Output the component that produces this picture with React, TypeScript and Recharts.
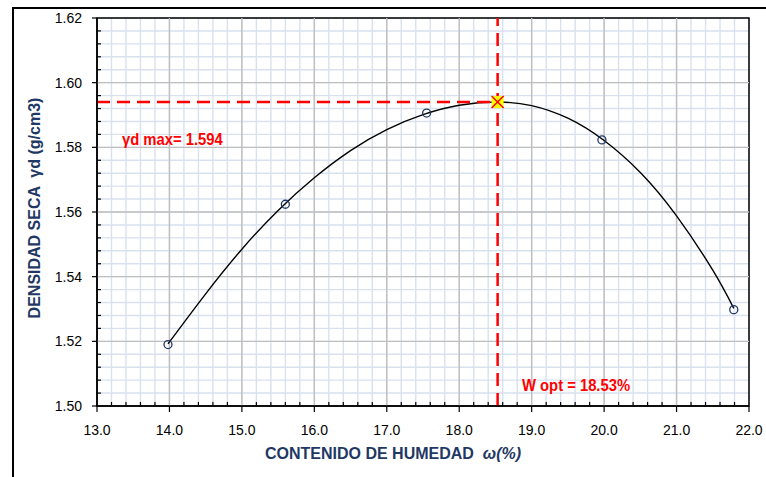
import React from 'react'
import {
  ComposedChart,
  Line,
  Scatter,
  XAxis,
  YAxis,
  CartesianGrid,
  ReferenceLine,
  ReferenceArea,
} from 'recharts'

// lab points (contenido de humedad %, densidad seca g/cm3)
const moisture = [13.98, 15.6, 17.55, 19.97, 21.79]
const density = [1.519, 1.5624, 1.5906, 1.5823, 1.5298]

// fitted curve
const curveX = [13.98, 14.5, 15.0, 15.5, 16.0, 16.5, 17.0, 17.5, 18.0, 18.53, 19.0, 19.5, 20.0, 20.5, 21.0, 21.5, 21.79]
const curveY = [1.5192, 1.5347, 1.5485, 1.5605, 1.5706, 1.579, 1.5855, 1.5901, 1.593, 1.594, 1.5929, 1.589, 1.5821, 1.5722, 1.5588, 1.542, 1.5302]

const wOpt = 18.53
const dMax = 1.594

const xMajor = [13, 14, 15, 16, 17, 18, 19, 20, 21, 22]
const yMajor = [1.5, 1.52, 1.54, 1.56, 1.58, 1.6, 1.62]

// minor ticks: 5 subdivisions between major ticks
const subdivide = (major: number[], dec: number) => {
  const out: number[] = []
  for (let i = 0; i < major.length - 1; i++) {
    const step = (major[i + 1] - major[i]) / 5
    for (let k = 0; k < 5; k++) out.push(Number((major[i] + k * step).toFixed(dec)))
  }
  out.push(major[major.length - 1])
  return out
}
const xMinor = subdivide(xMajor, 2)
const yMinor = subdivide(yMajor, 4)

const points = moisture.map((x, i) => ({ x, y: density[i] }))
const curve = curveX.map((x, i) => ({ x, y: curveY[i] }))
const optimum = [{ x: wOpt, y: dMax }]

const NAVY = '#1f3864'
const RED = '#ff0000'
const FONT = '"Liberation Sans", Arial, sans-serif'

const XTick = (props: any) => {
  const { x, y, index, payload } = props
  const major = index % 5 === 0
  if (!major) return <line x1={x} x2={x} y1={y} y2={y - 4} stroke="#000" strokeWidth={1.2} />
  return (
    <g>
      <line x1={x} x2={x} y1={y} y2={y + 6} stroke="#000" strokeWidth={1.2} />
      <text x={x} y={y + 29} textAnchor="middle" fontSize={14} fontFamily={FONT} fill="#000">
        {Number(payload.value).toFixed(1)}
      </text>
    </g>
  )
}

const YTick = (props: any) => {
  const { x, y, index, payload } = props
  const major = index % 5 === 0
  if (!major) return <line x1={x} x2={x + 4} y1={y} y2={y} stroke="#000" strokeWidth={1.2} />
  return (
    <g>
      <line x1={x} x2={x - 5} y1={y} y2={y} stroke="#000" strokeWidth={1.2} />
      <text x={x - 15} y={y + 5} textAnchor="end" fontSize={14} fontFamily={FONT} fill="#000">
        {Number(payload.value).toFixed(2)}
      </text>
    </g>
  )
}

const OpenCircle = (props: any) => (
  <circle cx={props.cx} cy={props.cy} r={4} fill="none" stroke={NAVY} strokeWidth={1.3} />
)

const OptMarker = (props: any) => {
  const { cx, cy } = props
  const s = 6
  return (
    <g>
      <rect x={cx - s} y={cy - s} width={2 * s} height={2 * s} fill="#ffff00" />
      <line x1={cx - s} y1={cy - s} x2={cx + s} y2={cy + s} stroke={RED} strokeWidth={1.5} />
      <line x1={cx - s} y1={cy + s} x2={cx + s} y2={cy - s} stroke={RED} strokeWidth={1.5} />
    </g>
  )
}

const annot: React.CSSProperties = {
  position: 'absolute',
  color: RED,
  fontWeight: 'bold',
  fontSize: 17,
  whiteSpace: 'nowrap',
  transform: 'scaleX(0.87)',
  transformOrigin: 'left center',
}

export default function App() {
  return (
    <div style={{ position: 'absolute', left: 0, top: 0, width: 766, height: 477, overflow: 'hidden', background: '#fff', fontFamily: FONT }}>
      <div style={{ position: 'absolute', left: 12, top: 7, width: 800, height: 500, borderTop: '2px solid #000', borderLeft: '2px solid #000' }} />
      <div style={{ position: 'absolute', left: 0, top: 0 }}>
        <ComposedChart width={766} height={477} margin={{ top: 18, right: 17, bottom: 41, left: 37 }}>
          <CartesianGrid stroke="#d9e1ef" strokeWidth={1.4} />
          <XAxis
            dataKey="x"
            type="number"
            domain={[13, 22]}
            ticks={xMinor}
            interval={0}
            tickSize={0}
            tickMargin={0}
            tickLine={false}
            tick={<XTick />}
            axisLine={{ stroke: '#000', strokeWidth: 1.5 }}
            height={30}
            allowDataOverflow
          />
          <YAxis
            dataKey="y"
            type="number"
            domain={[1.5, 1.62]}
            ticks={yMinor}
            interval={0}
            tickSize={0}
            tickMargin={0}
            tickLine={false}
            tick={<YTick />}
            axisLine={{ stroke: '#000', strokeWidth: 1.5 }}
            width={60}
            allowDataOverflow
          />
          {xMajor.slice(1, -1).map((v) => (
            <ReferenceLine key={'vx' + v} x={v} stroke="#bfbfbf" strokeWidth={1.4} />
          ))}
          {yMajor.slice(1, -1).map((v) => (
            <ReferenceLine key={'hy' + v} y={v} stroke="#bfbfbf" strokeWidth={1.4} />
          ))}
          <ReferenceArea x1={13} x2={22} y1={1.5} y2={1.62} fill="none" stroke="#000" strokeWidth={1.5} />
          <Line data={curve} dataKey="y" type="natural" stroke="#000" strokeWidth={1.4} dot={false} isAnimationActive={false} />
          <Scatter data={points} dataKey="y" shape={<OpenCircle />} isAnimationActive={false} />
          <ReferenceLine segment={[{ x: 13, y: dMax }, { x: wOpt, y: dMax }]} stroke={RED} strokeWidth={2.5} strokeDasharray="13 7" />
          <ReferenceLine segment={[{ x: wOpt, y: 1.5 }, { x: wOpt, y: 1.62 }]} stroke={RED} strokeWidth={2.5} strokeDasharray="13 7" />
          <Scatter data={optimum} dataKey="y" shape={<OptMarker />} isAnimationActive={false} />
        </ComposedChart>
      </div>
      <div style={{ ...annot, left: 122, top: 130 }}>γd max= {dMax.toFixed(3)}</div>
      <div style={{ ...annot, left: 522, top: 376 }}>W opt = {wOpt.toFixed(2)}%</div>
      <div
        style={{
          position: 'absolute',
          left: 35,
          top: 208,
          transform: 'translate(-50%, -50%) rotate(-90deg)',
          color: NAVY,
          fontWeight: 'bold',
          fontSize: 16,
          whiteSpace: 'pre',
        }}
      >
        {'DENSIDAD SECA  γd (g/cm3)'}
      </div>
      <div style={{ position: 'absolute', left: 265, top: 445, color: NAVY, fontWeight: 'bold', fontSize: 16, whiteSpace: 'pre' }}>
        {'CONTENIDO DE HUMEDAD  '}
        <i>ω(%)</i>
      </div>
    </div>
  )
}
